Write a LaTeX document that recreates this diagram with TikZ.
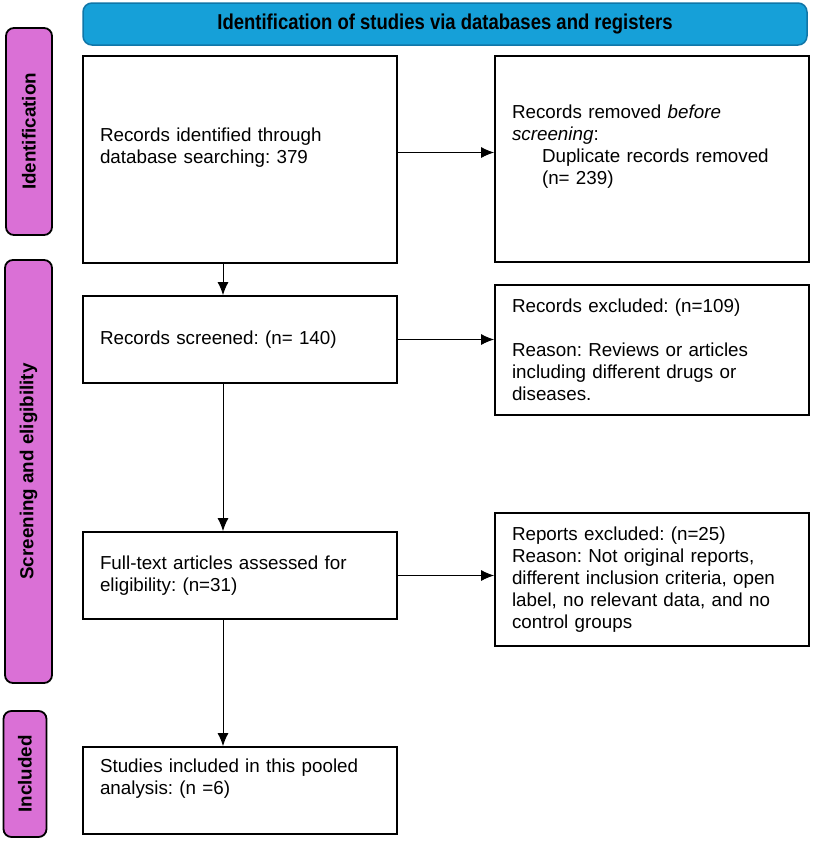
\documentclass[tikz,border=0pt]{standalone}
\usepackage{fontspec}
\setmainfont{Liberation Sans}
\usepackage{tikz}
\usetikzlibrary{arrows.meta,positioning}
\definecolor{bannerblue}{RGB}{22,160,216}
\definecolor{bannerline}{RGB}{16,118,168}
\definecolor{phasepink}{RGB}{218,112,214}
\tikzstyle{box} = [draw, line width=1.8pt, rectangle, text width=280pt, align=left, inner xsep=17pt, inner ysep=0pt, font=\fontsize{18.8}{22}\selectfont]
\tikzstyle{phase} = [draw, line width=1.8pt, fill=phasepink, rounded corners=8pt, rotate=90, inner sep=0pt, font=\fontsize{18.8}{22}\selectfont\bfseries]
\tikzstyle{banner} = [draw=bannerline, line width=1.5pt, fill=bannerblue, rounded corners=9pt, inner sep=0pt, font=\fontsize{21.5}{24}\selectfont\bfseries]
\tikzstyle{arrow} = [draw, -{Latex[length=13pt,width=11pt]}, line width=1pt]
\frenchspacing

\begin{document}
\begin{tikzpicture}[x=1pt,y=-1pt]
    \useasboundingbox (0,0) rectangle (813,863);
    % header and phase bars
    \node[banner, minimum width=724pt, minimum height=42pt] (head) at (445,24) {\scalebox{0.86}[1]{Identification of studies via databases and registers}};
    \node[phase, minimum width=207pt, minimum height=46pt] (identphase) at (29,131.5) {Identification};
    \node[phase, minimum width=423pt, minimum height=47pt] (screenphase) at (28.5,471.5) {Screening and eligibility};
    \node[phase, minimum width=126pt, minimum height=43pt] (inclphase) at (25,774) {Included};
    % left column
    \node[box, minimum height=207pt] (found) at (240,159.5) {Records identified through\\ database searching: 379\\ \strut};
    \node[box, minimum height=87pt] (screened) at (240,339.5) {Records screened: (n= 140)};
    \node[box, minimum height=87pt] (fulltext) at (240,575.5) {Full-text articles assessed for\\ eligibility: (n=31)};
    \node[box, minimum height=87pt] (included) at (240,790.5) {Studies included in this pooled\\ analysis: (n =6)\\ \strut};
    % right column
    \node[box, minimum height=206pt] (removed) at (652,159) {Records removed \textit{before}\\ \textit{screening}:\\ \hspace*{30pt}Duplicate records removed\\ \hspace*{30pt}(n= 239)\\ \strut};
    \node[box, minimum height=130pt] (excluded) at (652,350) {Records excluded: (n=109)\\[22pt] Reason: Reviews or articles\\ including different drugs or\\ diseases.};
    \node[box, minimum height=133pt] (reports) at (652,579.5) {Reports excluded: (n=25)\\ Reason: Not original reports,\\ different inclusion criteria, open\\ label, no relevant data, and no\\ control groups};
    % connectors
    \draw[arrow] ([yshift=7pt]found.east) -- ([yshift=7pt]found.east -| removed.west);
    \draw[arrow] (screened.east) -- (screened.east -| excluded.west);
    \draw[arrow] (fulltext.east) -- (fulltext.east -| reports.west);
    \draw[arrow] ([xshift=-17pt]found.south) -- ([xshift=-17pt]screened.north);
    \draw[arrow] ([xshift=-17pt]screened.south) -- ([xshift=-17pt]fulltext.north);
    \draw[arrow] ([xshift=-17pt]fulltext.south) -- ([xshift=-17pt]included.north);
\end{tikzpicture}
\end{document}
